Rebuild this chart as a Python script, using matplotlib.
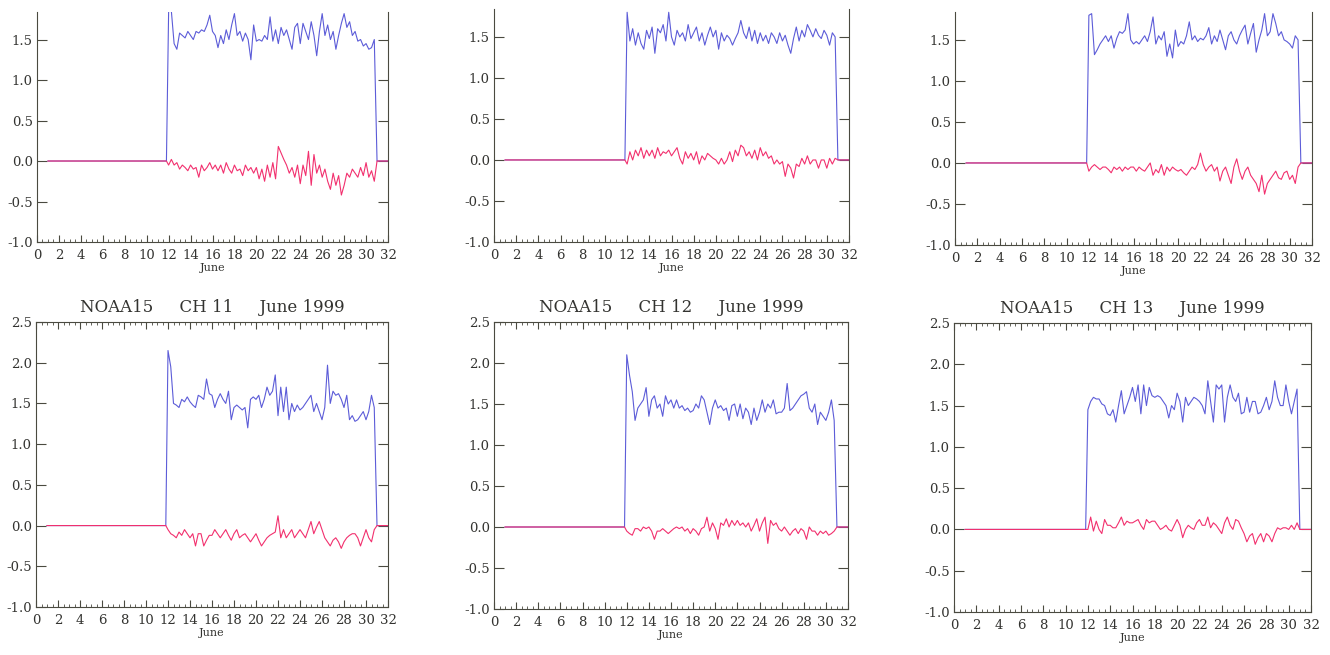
import numpy as np
import matplotlib
matplotlib.use("Agg")
import matplotlib.pyplot as plt
from matplotlib.ticker import MultipleLocator, FormatStrFormatter

# ---------------- data ----------------
# samples every 6 h from June 12.00 to June 30.75; zero before/after
start_day = 12.0
step_day = 0.25
flat_before = [1.0, 11.8]
flat_after = [31.0, 32.0]

titles = ["", "", "",
          "NOAA15     CH 11     June 1999",
          "NOAA15     CH 12     June 1999",
          "NOAA15     CH 13     June 1999"]
xlabel = "June"
xtick_labels = [str(v) for v in range(0, 33, 2)]
ytick_values = [-1.0, -0.5, 0.0, 0.5, 1.0, 1.5, 2.0, 2.5]

blue_1 = [1.85, 1.85, 1.45, 1.38, 1.58, 1.55, 1.52, 1.60, 1.55, 1.50, 1.60, 1.58,
          1.62, 1.60, 1.68, 1.80, 1.60, 1.55, 1.40, 1.55, 1.45, 1.62, 1.50, 1.68,
          1.82, 1.55, 1.60, 1.48, 1.58, 1.50, 1.25, 1.68, 1.48, 1.50, 1.48, 1.55,
          1.50, 1.78, 1.48, 1.62, 1.45, 1.65, 1.55, 1.62, 1.50, 1.38, 1.65, 1.70,
          1.45, 1.70, 1.60, 1.50, 1.72, 1.55, 1.30, 1.60, 1.82, 1.55, 1.68, 1.50,
          1.60, 1.38, 1.55, 1.70, 1.82, 1.65, 1.72, 1.55, 1.60, 1.48, 1.50, 1.42,
          1.45, 1.38, 1.40, 1.50]
red_1 = [-0.05, 0.02, -0.05, -0.02, -0.10, -0.05, -0.08, -0.12, -0.05, -0.10, -0.08, -0.20,
         -0.05, -0.12, -0.08, -0.02, -0.10, -0.05, -0.12, -0.05, -0.15, -0.02, -0.10, -0.15,
         -0.05, -0.12, -0.10, -0.18, -0.05, -0.12, -0.08, -0.15, -0.08, -0.22, -0.10, -0.25,
         -0.05, -0.20, -0.02, -0.22, 0.18, 0.10, 0.02, -0.05, -0.15, -0.08, -0.20, -0.05,
         -0.28, -0.05, -0.18, 0.12, -0.30, 0.08, -0.15, -0.05, -0.20, -0.10, -0.25, -0.35,
         -0.15, -0.30, -0.18, -0.42, -0.30, -0.15, -0.20, -0.10, -0.15, -0.20, -0.08, -0.18,
         -0.02, -0.20, -0.12, -0.25]

blue_2 = [1.80, 1.45, 1.60, 1.40, 1.55, 1.42, 1.35, 1.58, 1.48, 1.62, 1.30, 1.60,
          1.55, 1.65, 1.45, 1.80, 1.50, 1.40, 1.58, 1.50, 1.55, 1.45, 1.65, 1.48,
          1.55, 1.62, 1.45, 1.55, 1.40, 1.52, 1.62, 1.50, 1.58, 1.35, 1.55, 1.45,
          1.52, 1.48, 1.40, 1.48, 1.55, 1.70, 1.55, 1.48, 1.62, 1.45, 1.58, 1.42,
          1.55, 1.45, 1.52, 1.42, 1.55, 1.50, 1.42, 1.55, 1.45, 1.52, 1.40, 1.30,
          1.48, 1.62, 1.45, 1.58, 1.50, 1.65, 1.58, 1.50, 1.60, 1.52, 1.48, 1.58,
          1.52, 1.40, 1.55, 1.50]
red_2 = [-0.05, 0.10, 0.00, 0.12, 0.05, 0.15, 0.02, 0.12, 0.05, 0.12, 0.02, 0.15,
         0.05, 0.10, 0.08, 0.12, 0.05, 0.10, 0.15, 0.02, -0.05, 0.10, 0.02, 0.08,
         0.00, 0.10, -0.05, 0.05, 0.00, 0.08, 0.05, 0.02, 0.00, -0.05, 0.02, -0.05,
         0.00, 0.10, -0.02, 0.12, 0.05, 0.18, 0.15, 0.05, 0.10, 0.02, 0.12, 0.00,
         0.15, 0.05, 0.10, 0.02, 0.05, -0.05, 0.00, -0.05, -0.02, -0.20, -0.05, -0.10,
         -0.22, -0.05, -0.08, 0.02, -0.05, 0.05, -0.05, 0.00, 0.00, -0.10, 0.00, 0.00,
         -0.10, 0.02, -0.05, 0.02]

blue_3 = [1.80, 1.82, 1.32, 1.38, 1.45, 1.50, 1.55, 1.48, 1.55, 1.40, 1.52, 1.60,
          1.58, 1.62, 1.82, 1.50, 1.45, 1.48, 1.45, 1.50, 1.55, 1.48, 1.60, 1.78,
          1.45, 1.55, 1.50, 1.60, 1.30, 1.45, 1.28, 1.62, 1.42, 1.48, 1.45, 1.55,
          1.72, 1.50, 1.55, 1.48, 1.52, 1.50, 1.55, 1.65, 1.45, 1.55, 1.48, 1.62,
          1.50, 1.38, 1.55, 1.60, 1.50, 1.45, 1.55, 1.62, 1.68, 1.45, 1.58, 1.70,
          1.35, 1.50, 1.62, 1.82, 1.55, 1.60, 1.82, 1.70, 1.55, 1.60, 1.50, 1.48,
          1.45, 1.40, 1.55, 1.50]
red_3 = [-0.10, -0.05, -0.02, -0.05, -0.08, -0.05, -0.05, -0.08, -0.12, -0.05, -0.08, -0.05,
         -0.10, -0.05, -0.08, -0.05, -0.05, -0.10, -0.05, -0.08, -0.10, -0.05, 0.00, -0.15,
         -0.08, -0.12, -0.02, -0.15, -0.05, -0.10, -0.05, -0.08, -0.10, -0.08, -0.12, -0.15,
         -0.10, -0.05, -0.08, -0.02, 0.12, -0.02, -0.10, -0.05, -0.02, -0.10, -0.05, -0.22,
         -0.10, -0.05, -0.15, -0.25, -0.05, 0.05, -0.10, -0.20, -0.10, -0.05, -0.15, -0.20,
         -0.25, -0.35, -0.15, -0.38, -0.25, -0.20, -0.15, -0.10, -0.18, -0.20, -0.12, -0.10,
         -0.20, -0.15, -0.25, -0.05]

blue_4 = [2.15, 1.95, 1.50, 1.48, 1.45, 1.55, 1.52, 1.58, 1.52, 1.48, 1.45, 1.60,
          1.58, 1.55, 1.80, 1.62, 1.60, 1.45, 1.55, 1.62, 1.55, 1.50, 1.65, 1.30,
          1.45, 1.48, 1.45, 1.42, 1.45, 1.20, 1.55, 1.58, 1.55, 1.60, 1.45, 1.55,
          1.70, 1.60, 1.65, 1.85, 1.35, 1.70, 1.40, 1.70, 1.30, 1.50, 1.40, 1.48,
          1.42, 1.45, 1.50, 1.55, 1.60, 1.40, 1.50, 1.40, 1.30, 1.45, 1.97, 1.50,
          1.65, 1.60, 1.62, 1.55, 1.45, 1.60, 1.30, 1.35, 1.28, 1.30, 1.35, 1.40,
          1.30, 1.40, 1.60, 1.45]
red_4 = [-0.05, -0.10, -0.12, -0.15, -0.08, -0.12, -0.05, -0.10, -0.15, -0.10, -0.25, -0.10,
         -0.10, -0.25, -0.18, -0.12, -0.12, -0.05, -0.10, -0.15, -0.10, -0.05, -0.12, -0.18,
         -0.10, -0.05, -0.15, -0.12, -0.10, -0.15, -0.20, -0.15, -0.10, -0.18, -0.25, -0.20,
         -0.15, -0.12, -0.10, -0.08, 0.12, -0.15, -0.05, -0.15, -0.10, -0.05, -0.15, -0.10,
         -0.05, -0.10, -0.15, -0.05, 0.05, -0.10, -0.02, 0.05, -0.05, -0.15, -0.20, -0.25,
         -0.18, -0.15, -0.20, -0.28, -0.20, -0.15, -0.12, -0.10, -0.10, -0.15, -0.25, -0.15,
         -0.05, -0.15, -0.20, -0.05]

blue_5 = [2.10, 1.85, 1.65, 1.30, 1.45, 1.50, 1.55, 1.70, 1.35, 1.55, 1.60, 1.45,
          1.50, 1.35, 1.60, 1.50, 1.55, 1.45, 1.55, 1.45, 1.48, 1.42, 1.45, 1.40,
          1.42, 1.50, 1.45, 1.60, 1.55, 1.40, 1.25, 1.45, 1.55, 1.45, 1.48, 1.42,
          1.45, 1.30, 1.48, 1.50, 1.35, 1.50, 1.32, 1.45, 1.40, 1.25, 1.45, 1.30,
          1.40, 1.55, 1.40, 1.50, 1.45, 1.55, 1.38, 1.40, 1.40, 1.45, 1.75, 1.42,
          1.45, 1.50, 1.55, 1.60, 1.62, 1.65, 1.45, 1.40, 1.50, 1.25, 1.40, 1.35,
          1.30, 1.40, 1.55, 1.30]
red_5 = [-0.05, -0.08, -0.10, -0.02, -0.02, -0.05, 0.00, -0.02, 0.00, -0.05, -0.15, -0.05,
         -0.05, -0.02, -0.05, -0.08, -0.05, -0.02, 0.00, -0.02, 0.00, -0.05, -0.02, -0.08,
         -0.02, -0.05, -0.10, -0.02, 0.00, 0.12, -0.05, 0.05, -0.02, -0.15, 0.05, 0.02,
         0.10, 0.00, 0.08, 0.02, 0.08, 0.02, 0.05, 0.00, 0.05, -0.05, 0.02, 0.10,
         -0.05, 0.05, 0.12, -0.20, 0.08, 0.02, 0.05, -0.02, -0.05, 0.00, -0.05, -0.10,
         -0.05, -0.02, -0.08, -0.02, -0.05, -0.15, 0.00, -0.05, -0.05, -0.10, -0.05, -0.08,
         -0.05, -0.10, -0.08, -0.05]

blue_6 = [1.45, 1.55, 1.60, 1.58, 1.58, 1.52, 1.50, 1.40, 1.38, 1.45, 1.30, 1.50,
          1.68, 1.40, 1.50, 1.60, 1.72, 1.55, 1.75, 1.40, 1.75, 1.50, 1.72, 1.62,
          1.60, 1.62, 1.60, 1.55, 1.50, 1.35, 1.50, 1.45, 1.65, 1.55, 1.30, 1.60,
          1.50, 1.55, 1.60, 1.58, 1.55, 1.50, 1.40, 1.80, 1.55, 1.30, 1.75, 1.70,
          1.75, 1.30, 1.60, 1.75, 1.60, 1.55, 1.65, 1.40, 1.42, 1.60, 1.42, 1.55,
          1.55, 1.40, 1.42, 1.50, 1.60, 1.45, 1.55, 1.80, 1.60, 1.50, 1.50, 1.75,
          1.55, 1.40, 1.55, 1.70]
red_6 = [0.00, 0.15, -0.02, 0.10, 0.00, -0.05, 0.12, 0.05, 0.05, 0.02, 0.02, 0.08,
         0.15, 0.05, 0.10, 0.08, 0.08, 0.10, 0.12, 0.05, 0.00, 0.12, 0.08, 0.10,
         0.10, 0.05, 0.00, 0.02, 0.05, 0.00, -0.02, 0.05, 0.12, 0.05, -0.10, 0.00,
         0.05, 0.02, 0.00, 0.08, 0.12, 0.05, 0.05, 0.15, 0.02, 0.08, 0.05, 0.00,
         -0.05, 0.08, 0.15, 0.05, 0.00, 0.12, 0.10, 0.02, -0.05, -0.15, -0.08, -0.05,
         -0.18, -0.10, -0.05, -0.15, -0.05, -0.08, -0.15, -0.05, 0.02, 0.00, 0.02, 0.02,
         0.00, 0.05, 0.00, 0.08]

blue_series = [blue_1, blue_2, blue_3, blue_4, blue_5, blue_6]
red_series = [red_1, red_2, red_3, red_4, red_5, red_6]

# ---------------- layout (pixel boxes: left, top, right, bottom) ----------------
W, H = 1330, 655
boxes = [(37, 12, 388, 242), (494, 9, 849, 242), (955, 12, 1312, 245),
         (36, 322, 388, 607), (494, 322, 848, 609), (954, 323, 1311, 612)]
ylims = [(-1.0, 1.84)] * 3 + [(-1.0, 2.5)] * 3

BLUE = "#5c5cd8"
RED = "#f2306e"
FRAME = "#4a4a40"
TEXT = "#333330"
FONT = "DejaVu Serif"

fig = plt.figure(figsize=(W / 100, H / 100), dpi=100)
fig.patch.set_facecolor("white")

for i in range(6):
    l, t, r, b = boxes[i]
    ax = fig.add_axes([l / W, 1 - b / H, (r - l) / W, (b - t) / H])
    n = len(blue_series[i])
    days = list(flat_before) + [start_day + step_day * k for k in range(n)] + list(flat_after)
    bvals = [0.0, 0.0] + list(blue_series[i]) + [0.0, 0.0]
    rvals = [0.0, 0.0] + list(red_series[i]) + [0.0, 0.0]
    ax.plot(days, bvals, color=BLUE, lw=0.8)
    ax.plot(days, rvals, color=RED, lw=0.8)

    ax.set_xlim(0, 32)
    ax.set_ylim(*ylims[i])
    ax.set_xticks(range(0, 33, 2))
    ax.set_xticklabels(xtick_labels)
    ax.xaxis.set_minor_locator(MultipleLocator(0.5))
    ax.set_yticks([v for v in ytick_values if v <= ylims[i][1]])
    ax.yaxis.set_major_formatter(FormatStrFormatter("%.1f"))

    top_row = i < 3
    ax.tick_params(axis="x", which="major", direction="in", length=5, width=0.8,
                   top=not top_row, bottom=True, colors=FRAME, labelcolor=TEXT,
                   labelsize=9.5, pad=5)
    ax.tick_params(axis="x", which="minor", direction="in", length=2.5, width=0.6,
                   top=not top_row, bottom=True, colors=FRAME)
    ax.tick_params(axis="y", which="major", direction="in", length=7, width=0.8,
                   left=True, right=True, colors=FRAME, labelcolor=TEXT,
                   labelsize=9.5, pad=3)
    for lab in ax.get_xticklabels() + ax.get_yticklabels():
        lab.set_fontfamily(FONT)
    for name, sp in ax.spines.items():
        sp.set_color(FRAME)
        sp.set_linewidth(0.8)
    if top_row:
        ax.spines["top"].set_visible(False)
    ax.set_xlabel(xlabel, fontsize=8, family=FONT, color=TEXT, labelpad=1)
    if titles[i]:
        ax.set_title(titles[i], fontsize=12, family=FONT, color=TEXT, pad=7)

fig.savefig("out.png", dpi=100, facecolor="white")
